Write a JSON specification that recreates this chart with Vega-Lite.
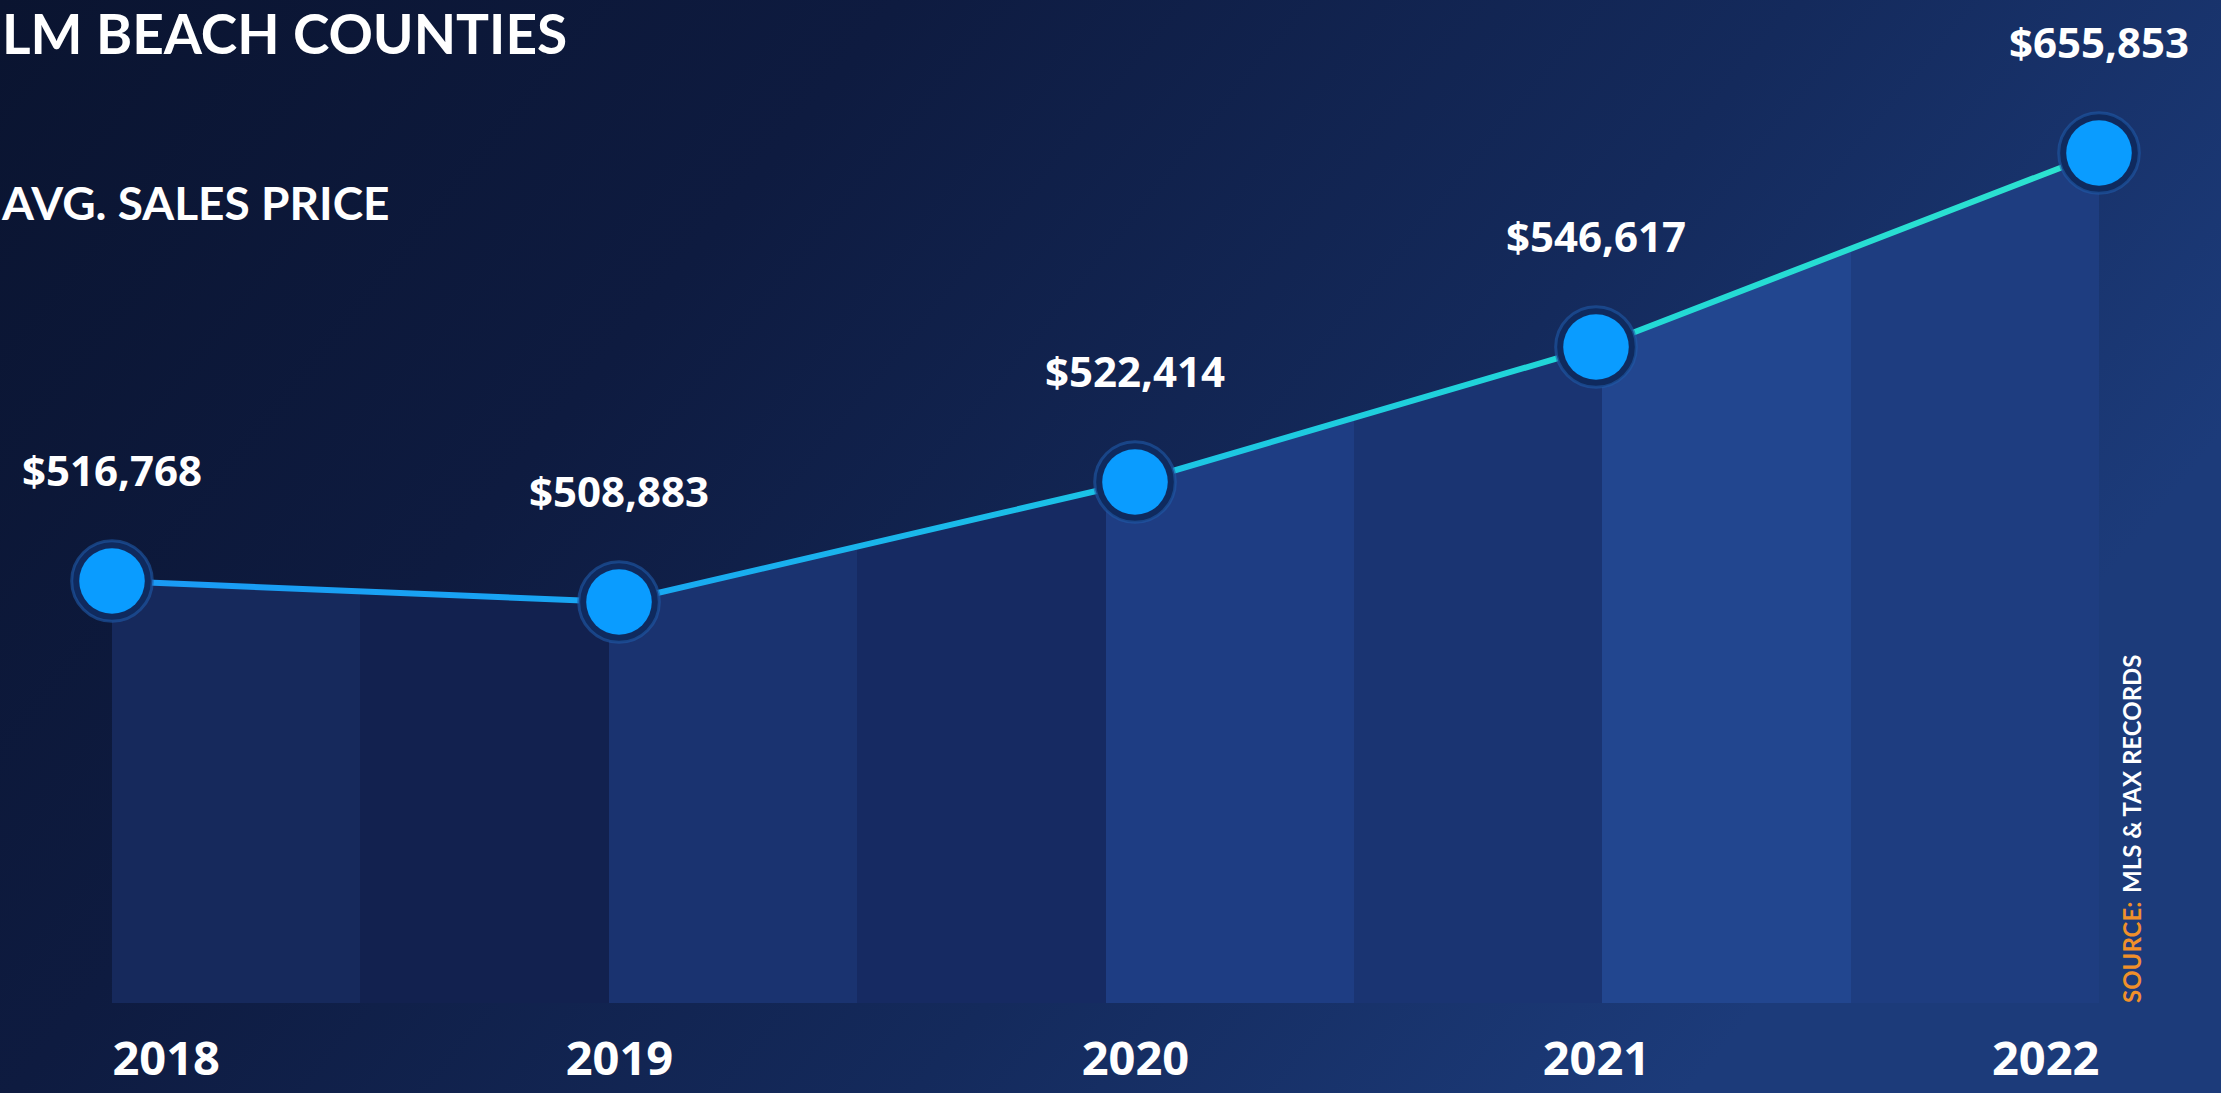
{
  "$schema": "https://vega.github.io/schema/vega-lite/v6.json",
  "width": 2221,
  "height": 1093,
  "autosize": "none",
  "padding": 0,
  "background": "#0f1d45",
  "config": {
    "view": {
      "stroke": null,
      "fill": {
        "gradient": "linear", "x1": 0, "y1": 0, "x2": 1, "y2": 0.4,
        "stops": [
          {"offset": 0, "color": "#0a1430"},
          {"offset": 0.35, "color": "#0e1b40"},
          {"offset": 0.7, "color": "#142a5c"},
          {"offset": 1, "color": "#1c3b7a"}
        ]
      }
    }
  },
  "title": {
    "text": "LM BEACH COUNTIES",
    "subtitle": "AVG. SALES PRICE",
    "anchor": "start",
    "frame": "group",
    "offset": -230,
    "dx": 2,
    "color": "#ffffff",
    "font": "Lato",
    "fontSize": 55,
    "fontWeight": "bold",
    "subtitleColor": "#ffffff",
    "subtitleFont": "Lato",
    "subtitleFontSize": 46,
    "subtitleFontWeight": "bold",
    "subtitlePadding": 118
  },
  "data": {
    "values": [
      {"year": 2018, "price": 516768},
      {"year": 2019, "price": 508883},
      {"year": 2020, "price": 522414},
      {"year": 2021, "price": 546617},
      {"year": 2022, "price": 655853}
    ]
  },
  "encoding": {
    "x": {
      "field": "year",
      "type": "quantitative",
      "scale": {"domain": [2018, 2019, 2020, 2021, 2022], "range": [112, 619, 1135, 1596, 2099], "nice": false, "zero": false},
      "axis": {
        "values": [2018, 2019, 2020, 2021, 2022],
        "format": "d",
        "title": null,
        "domain": false,
        "ticks": false,
        "grid": false,
        "offset": -56,
        "labelPadding": 0,
        "labelFlush": true,
        "labelOverlap": false,
        "labelBaseline": "top",
        "labelFont": "Open Sans",
        "labelFontWeight": "bold",
        "labelFontSize": 47,
        "labelColor": "#ffffff"
      }
    },
    "y": {
      "field": "price",
      "type": "quantitative",
      "scale": {"domain": [0, 508883, 516768, 522414, 546617, 655853], "range": [1003, 602, 581, 482, 347, 153], "nice": false, "zero": false},
      "axis": null
    }
  },
  "layer": [
    {
      "mark": {
        "type": "area",
        "fill": {
          "gradient": "linear", "x1": 0, "y1": 0, "x2": 1, "y2": 0,
          "stops": [
            {"offset": 0, "color": "#16295c"}, {"offset": 0.125, "color": "#16295c"},
            {"offset": 0.125, "color": "#12214f"}, {"offset": 0.25, "color": "#12214f"},
            {"offset": 0.25, "color": "#1a3370"}, {"offset": 0.375, "color": "#1a3370"},
            {"offset": 0.375, "color": "#162a62"}, {"offset": 0.5, "color": "#162a62"},
            {"offset": 0.5, "color": "#1e3d83"}, {"offset": 0.625, "color": "#1e3d83"},
            {"offset": 0.625, "color": "#1a3472"}, {"offset": 0.75, "color": "#1a3472"},
            {"offset": 0.75, "color": "#22468f"}, {"offset": 0.875, "color": "#22468f"},
            {"offset": 0.875, "color": "#1e3d80"}, {"offset": 1, "color": "#1e3d80"}
          ]
        }
      },
      "encoding": {"y2": {"datum": 0}}
    },
    {
      "mark": {
        "type": "line",
        "strokeWidth": 6,
        "stroke": {
          "gradient": "linear", "x1": 0, "y1": 0, "x2": 1, "y2": 0,
          "stops": [
            {"offset": 0, "color": "#1a9af5"},
            {"offset": 0.25, "color": "#18a6f2"},
            {"offset": 0.5, "color": "#1bc3e6"},
            {"offset": 0.75, "color": "#22d8d6"},
            {"offset": 1, "color": "#2de3cf"}
          ]
        }
      }
    },
    {
      "mark": {"type": "circle", "size": 6500, "fill": "#0f2a5e", "stroke": "#1f5aa8", "strokeWidth": 3, "strokeOpacity": 0.6, "opacity": 1}
    },
    {
      "mark": {"type": "circle", "size": 4300, "fill": "#0a9cff", "opacity": 1}
    },
    {
      "mark": {"type": "text", "dy": -108, "baseline": "middle", "align": "center", "font": "Open Sans", "fontWeight": "bold", "fontSize": 42, "color": "#ffffff"},
      "encoding": {"text": {"field": "price", "type": "quantitative", "format": "$,.0f"}}
    },
    {
      "transform": [{"filter": "datum.year == 2022"}],
      "mark": {"type": "text", "angle": 270, "align": "left", "baseline": "middle", "font": "Lato", "fontWeight": "bold", "fontSize": 24, "color": "#f0902a"},
      "encoding": {
        "x": {"datum": 2022.07},
        "y": {"datum": 0},
        "text": {"value": "SOURCE:"}
      }
    },
    {
      "transform": [{"filter": "datum.year == 2022"}],
      "mark": {"type": "text", "angle": 270, "align": "left", "baseline": "middle", "dx": 110, "font": "Lato", "fontWeight": "bold", "fontSize": 24, "color": "#ffffff"},
      "encoding": {
        "x": {"datum": 2022.07},
        "y": {"datum": 0},
        "text": {"value": "MLS & TAX RECORDS"}
      }
    }
  ]
}
